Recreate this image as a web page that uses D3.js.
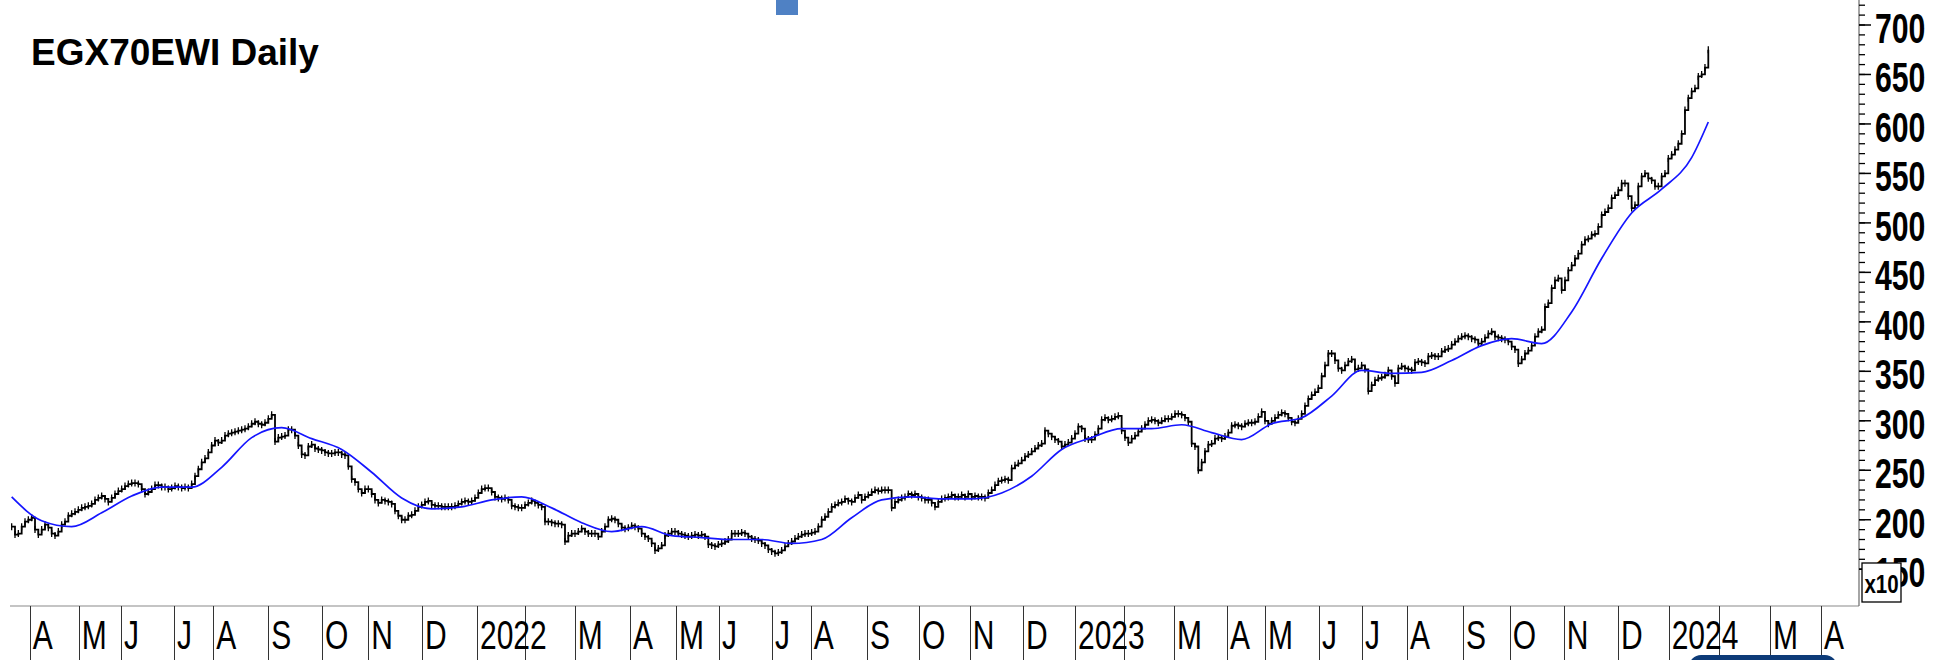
<!DOCTYPE html>
<html>
<head>
<meta charset="utf-8">
<script src="https://cdn.jsdelivr.net/npm/d3@7"></script>
<style>
  html, body { margin: 0; padding: 0; background: #fff; }
  svg { display: block; font-family: "Liberation Sans", Arial, sans-serif; }
</style>
</head>
<body>
<svg id="chart" width="1952" height="660"></svg>
<script>
/* chart data */
const chartTitle = "EGX70EWI Daily";

// closing levels, one value per bar (index units)
const closes = [
  193,185,186,193,198,200,202,190,185,190, 195,192,186,184,188,195,198,204,206,208,
  210,212,213,214,216,220,222,224,221,218, 222,226,229,231,234,236,237,237,236,231,
  226,228,231,235,235,233,233,231,232,234, 233,232,233,232,236,244,251,258,262,268,
  275,280,278,280,285,287,288,289,290,291, 292,294,297,299,297,296,298,302,306,279,
  283,284,285,291,291,285,275,266,265,274, 276,272,271,270,268,267,267,268,268,266,
  265,254,241,238,231,227,231,231,226,220, 217,220,219,218,216,209,204,200,200,204,
  205,209,213,215,218,219,215,214,214,213, 213,213,213,214,216,218,219,218,
  219,222,227,231,232,232,228,223,222,221, 222,220,214,213,212,212,215,217,219,217,
  215,213,198,198,197,196,196,195,178,184, 186,186,188,191,188,186,186,186,183,188,
  193,200,201,200,196,192,191,192,194,193, 191,186,183,181,176,169,171,174,184,186,
  188,188,186,185,184,183,184,185,184,185, 183,175,174,173,175,176,178,180,186,186,
  186,187,186,183,181,180,179,176,174,170, 168,166,167,169,173,176,178,181,183,185,
  186,186,187,188,193,200,203,208,213,215, 217,218,221,219,218,222,225,220,223,225,
  228,230,229,230,230,230,212,218,220,222, 223,226,225,226,223,222,220,
  220,217,213,218,221,222,223,225,223,223, 225,223,226,223,224,223,223,222,227,230,
  235,239,240,241,240,252,255,257,260,264, 266,269,272,275,277,290,287,284,281,279,
  274,276,278,282,287,294,292,282,281,281, 286,292,301,303,301,302,304,305,290,283,
  278,282,285,289,292,296,300,301,300,298, 300,302,302,304,307,307,306,303,299,277,
  274,250,258,269,276,277,282,283,282,284, 288,295,296,295,294,297,298,298,299,304,
  309,300,297,300,303,306,308,307,303,299, 298,302,307,315,322,326,329,333,345,356,
  368,368,361,353,351,356,360,362,352,353, 356,352,330,336,341,343,344,
  346,351,345,338,353,355,353,352,351,359, 360,359,358,365,366,365,365,370,372,373,
  377,380,383,385,386,385,383,382,378,380, 384,388,390,385,384,383,382,380,375,372,
  358,362,368,371,376,385,390,392,415,419, 434,442,444,432,442,452,457,464,469,478,
  483,484,488,489,496,508,511,515,525,528, 533,540,
  540,527,515,518,537,547,550,545,543,537, 537,547,550,565,569,574,580,590,614,626,
  633,636,648,650,657,675
];

// moving average, read every maStep bars, plus the last bar
const maStep = 9;
const maValues = [
  223,199,193,207,224,233,233,253,283,293,282,271,248,222,211,213,
  220,223,212,197,188,193,184,182,180,180,176,180,202,220,223,
  221,221,227,244,271,283,292,292,296,288,281,297,303,325,351,348,
  349,361,376,383,378,410,464,510,534,566,
  602
];

// month boundaries, in bar index units, and their labels
const monthStarts = [
  5.4, 20.1, 32.8, 48.7, 60.5, 77.0, 93.1, 107.0, 123.1,
  139.6, 153.9, 168.9, 185.5, 199.3, 212.2, 228.1, 239.7, 256.6, 272.2, 287.4, 303.4,
  319.0, 333.7, 348.7, 364.6, 376.0, 392.2, 405.1, 418.6, 435.4, 449.4, 465.6, 481.9,
  497.1, 512.1, 527.5, 542.8
];
const monthLabels = [
  "A","M","J","J","A","S","O","N","D",
  "2022","","M","A","M","J","J","A","S","O","N","D",
  "2023","","M","A","M","J","J","A","S","O","N","D",
  "2024","","M","A"
];

const yMajorTicks = [150, 200, 250, 300, 350, 400, 450, 500, 550, 600, 650, 700];
const yMinorTicks = d3.range(150, 721, 10);

/* layout */
const svg = d3.select("#chart");
const axisX = 1859;     // right price axis
const baseY = 606;      // bottom of plot

const x = d3.scaleLinear().domain([0, closes.length - 1]).range([11.67, 1708.3]);
const y = d3.scaleLinear().domain([150, 700]).range([569.2, 25]);

// small blue marker at top
svg.append("rect")
  .attr("x", 776).attr("y", 0).attr("width", 22).attr("height", 15)
  .attr("fill", "#4f81c4");

// title
svg.append("text")
  .attr("x", 31).attr("y", 65)
  .attr("font-size", 37).attr("font-weight", "bold")
  .attr("fill", "#000")
  .text(chartTitle);

// price bars: step line plus small bar marks
const plot = svg.append("g");
plot.append("path")
  .datum(closes)
  .attr("fill", "none")
  .attr("stroke", "#000")
  .attr("stroke-width", 1.8)
  .attr("d", d3.line().x((d, i) => x(i)).y(d => y(d)).curve(d3.curveStepAfter));

plot.selectAll("line.bar")
  .data(closes)
  .enter().append("line")
  .attr("class", "bar")
  .attr("x1", (d, i) => x(i)).attr("x2", (d, i) => x(i))
  .attr("y1", d => y(d) - 3.5).attr("y2", d => y(d) + 3.5)
  .attr("stroke", "#000").attr("stroke-width", 1.3);

// moving average
const maIdx = d3.range(0, closes.length, maStep).concat([closes.length - 1]);
plot.append("path")
  .datum(maValues)
  .attr("fill", "none")
  .attr("stroke", "#1515ff")
  .attr("stroke-width", 1.7)
  .attr("d", d3.line().x((d, i) => x(maIdx[i])).y(d => y(d)).curve(d3.curveMonotoneX));

// axis frame
svg.append("line")
  .attr("x1", 10).attr("x2", axisX).attr("y1", baseY).attr("y2", baseY)
  .attr("stroke", "#8a8a8a").attr("stroke-width", 1.2);
svg.append("line")
  .attr("x1", axisX).attr("x2", axisX).attr("y1", 0).attr("y2", baseY)
  .attr("stroke", "#6a6a6a").attr("stroke-width", 1.2);

// y ticks
svg.selectAll("line.ytick-minor")
  .data(yMinorTicks)
  .enter().append("line")
  .attr("class", "ytick-minor")
  .attr("x1", axisX).attr("x2", axisX + 6)
  .attr("y1", d => y(d)).attr("y2", d => y(d))
  .attr("stroke", "#000").attr("stroke-width", 1.3);

svg.selectAll("line.ytick-major")
  .data(yMajorTicks)
  .enter().append("line")
  .attr("class", "ytick-major")
  .attr("x1", axisX).attr("x2", axisX + 12)
  .attr("y1", d => y(d)).attr("y2", d => y(d))
  .attr("stroke", "#000").attr("stroke-width", 1.5);

svg.selectAll("text.ylabel")
  .data(yMajorTicks)
  .enter().append("text")
  .attr("class", "ylabel")
  .attr("transform", d => `translate(1875,${y(d) + 18}) scale(0.72,1)`)
  .attr("font-size", 42).attr("font-weight", "bold")
  .attr("fill", "#000")
  .text(d => d);

// x10 box, drawn over the lowest label as in the original
svg.append("rect")
  .attr("x", 1862).attr("y", 563).attr("width", 39).attr("height", 39)
  .attr("fill", "#fff").attr("stroke", "#000").attr("stroke-width", 1.3);
svg.append("text")
  .attr("transform", "translate(1881.5,593) scale(0.82,1)")
  .attr("text-anchor", "middle")
  .attr("font-size", 25).attr("font-weight", "bold")
  .text("x10");

// month separators and labels
const months = monthStarts.map((m, i) => ({ pos: m, label: monthLabels[i] }));
svg.selectAll("line.month")
  .data(months)
  .enter().append("line")
  .attr("class", "month")
  .attr("x1", d => Math.round(x(d.pos)) + 0.5).attr("x2", d => Math.round(x(d.pos)) + 0.5)
  .attr("y1", baseY).attr("y2", 660)
  .attr("stroke", "#333").attr("stroke-width", 1);

svg.selectAll("text.month")
  .data(months.filter(d => d.label !== ""))
  .enter().append("text")
  .attr("class", "month")
  .attr("transform", d => `translate(${x(d.pos) + 3},649) scale(0.75,1)`)
  .attr("font-size", 40)
  .attr("fill", "#000")
  .text(d => d.label);

// partly hidden button at bottom right
svg.append("rect")
  .attr("x", 1689).attr("y", 655).attr("width", 148).attr("height", 30)
  .attr("rx", 12)
  .attr("fill", "#0d3b78");
</script>
</body>
</html>
